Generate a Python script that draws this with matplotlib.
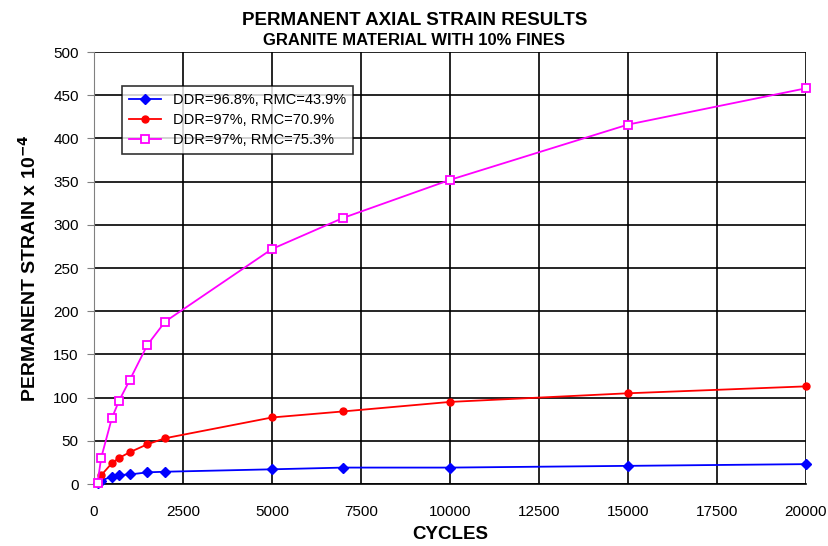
import matplotlib
matplotlib.use("Agg")
import matplotlib.pyplot as plt

plt.rcParams['font.family'] = ['Liberation Sans', 'DejaVu Sans']

# cycles at which permanent strain was recorded
cycles = [100, 200, 500, 700, 1000, 1500, 2000, 5000, 7000, 10000, 15000, 20000]

# permanent strain x 10^-4 for each test
strain_rmc439 = [1.5, 4, 8.5, 10.4, 11, 13.5, 14.2, 17, 19, 19, 21, 23]
strain_rmc709 = [1, 10, 24, 30, 36.7, 46, 53, 77, 84, 95, 105, 113]
strain_rmc753 = [1, 30, 76, 96, 120, 161, 188, 272, 308, 352, 416, 458]

labels = ['DDR=96.8%, RMC=43.9%', 'DDR=97%, RMC=70.9%', 'DDR=97%, RMC=75.3%']

fig = plt.figure(figsize=(8.29, 5.46), dpi=100)
ax = fig.add_axes([94/829, 1 - 484/546, 712/829, 432/546])

ax.plot(cycles, strain_rmc439, color='#0000ff', marker='D', markersize=5.5,
        lw=1.3, label=labels[0], clip_on=False, zorder=3)
ax.plot(cycles, strain_rmc709, color='#ff0000', marker='o', markersize=5,
        lw=1.3, label=labels[1], clip_on=False, zorder=3)
ax.plot(cycles, strain_rmc753, color='#ff00ff', marker='s', markersize=5.5,
        markerfacecolor='white', markeredgewidth=1.3, lw=1.3, label=labels[2],
        clip_on=False, zorder=3)

ax.set_xlim(0, 20000)
ax.set_ylim(0, 500)
ax.set_xticks(range(0, 20001, 2500))
ax.set_yticks(range(0, 501, 50))
ax.grid(True, color='black', lw=1.2)
ax.set_axisbelow(True)
for s in ['top', 'right']:
    ax.spines[s].set_visible(False)
ax.spines['left'].set_color('#808080')
ax.spines['bottom'].set_color('black')
ax.spines['bottom'].set_linewidth(1.2)
ax.tick_params(axis='both', labelsize=11, direction='out', length=5,
               color='#808080', pad=6)
ax.tick_params(axis='x', length=0, pad=15)

ax.set_xlabel('CYCLES', fontsize=13.5, fontweight='bold', labelpad=5)
ax.set_ylabel('PERMANENT STRAIN x 10$^{\\mathbf{-4}}$', fontsize=14,
              fontweight='bold', labelpad=10)

fig.text(0.5, 0.955, 'PERMANENT AXIAL STRAIN RESULTS', ha='center',
         fontsize=13.5, fontweight='bold')
fig.text(0.5, 0.918, 'GRANITE MATERIAL WITH 10% FINES', ha='center',
         fontsize=12, fontweight='bold')

leg = ax.legend(loc='upper left', bbox_to_anchor=(28/712, 1 - 34/432),
                fontsize=10.5, frameon=True, fancybox=False, borderpad=0.5,
                handlelength=2.2, labelspacing=0.4, borderaxespad=0)
leg.get_frame().set_edgecolor('black')
leg.get_frame().set_linewidth(1.2)

fig.savefig('out.png', dpi=100)
